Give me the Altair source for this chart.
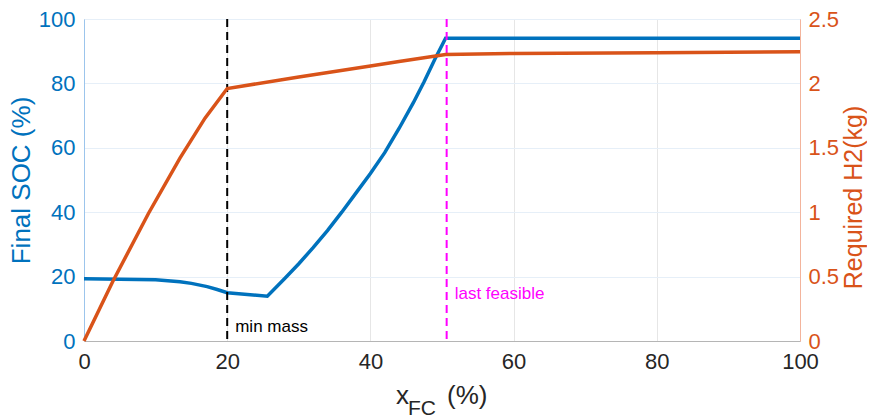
import altair as alt
import pandas as pd

# ---- data ----
soc_x = [0, 5, 10, 13.4, 15, 17.2, 18.6, 20, 25.6, 28, 30, 32, 34, 36, 38, 40, 42, 44, 46, 47.5, 49, 50.5, 100]
soc_y = [19.3, 19.2, 19.0, 18.4, 17.9, 16.9, 16.0, 15.0, 13.9, 19.3, 24.0, 29.0, 34.3, 40.0, 46.0, 52.0, 58.5, 66.0, 74.0, 80.5, 87.5, 94.0, 94.0]

h2_x = [0, 4, 9, 13.4, 16.9, 20, 30, 40, 44, 50.5, 60, 80, 100]
h2_y = [0, 0.46, 0.99, 1.42, 1.73, 1.96, 2.05, 2.135, 2.17, 2.225, 2.232, 2.238, 2.245]

vline_x = [20, 50.65]
vline_color = ["#000000", "#FF00FF"]

ann_x = [20, 50.65]
ann_y = [4.3, 14.6]
ann_text = ["min mass", "last feasible"]
ann_color = ["#000000", "#FF00FF"]

x_ticks = [0, 20, 40, 60, 80, 100]
soc_ticks = [0, 20, 40, 60, 80, 100]
h2_ticks = [0, 0.5, 1, 1.5, 2, 2.5]

BLUE = "#0072BD"
ORANGE = "#D95319"

soc_df = pd.DataFrame({"x": soc_x, "soc": soc_y})
h2_df = pd.DataFrame({"x": h2_x, "h2": h2_y})
vl_df = pd.DataFrame({"x": vline_x, "c": vline_color})
ann_df = pd.DataFrame({"x": ann_x, "soc": ann_y, "t": ann_text, "c": ann_color})
one = pd.DataFrame({"a": [0]})

x_scale = alt.Scale(domain=[0, 100], nice=False, zero=False)
x_axis = alt.Axis(values=x_ticks, title=None, labelFontSize=22, labelColor="#262626",
                  grid=True, gridColor="#e6e6e6", domainColor="#b5b5b5", ticks=False,
                  labelPadding=10, labelFlush=False)
soc_scale = alt.Scale(domain=[0, 100], nice=False)
soc_axis = alt.Axis(values=soc_ticks, title="Final SOC (%)", titleFontSize=26,
                    titleFontWeight="normal", titleColor=BLUE, labelColor=BLUE,
                    labelFontSize=22, domainColor="#9cc5ec", grid=True,
                    gridColor="#e6eff8", ticks=False, labelPadding=9, titlePadding=4)
h2_scale = alt.Scale(domain=[0, 2.5], nice=False)
h2_axis = alt.Axis(values=h2_ticks, title="Required H2(kg)", titleFontSize=25,
                   titleFontWeight="normal", titleColor=ORANGE, labelColor=ORANGE,
                   labelFontSize=22, domainColor="#f3b49c", grid=False, ticks=False,
                   orient="right", format="~g", labelPadding=8, titlePadding=3,
                   titleAngle=270, titleBaseline="top", titleY=178)

soc_line = alt.Chart(soc_df).mark_line(color=BLUE, strokeWidth=3.5).encode(
    x=alt.X("x:Q", scale=x_scale, axis=x_axis),
    y=alt.Y("soc:Q", scale=soc_scale, axis=soc_axis),
)

vlines = alt.Chart(vl_df).mark_rule(strokeDash=[8, 5], strokeWidth=2).encode(
    x=alt.X("x:Q", scale=x_scale, axis=x_axis),
    color=alt.Color("c:N", scale=None),
)

ann = alt.Chart(ann_df).mark_text(align="left", baseline="middle", dx=8, fontSize=17).encode(
    x=alt.X("x:Q", scale=x_scale, axis=x_axis),
    y=alt.Y("soc:Q", scale=soc_scale, axis=soc_axis),
    text="t:N",
    color=alt.Color("c:N", scale=None),
)

t_x = alt.Chart(one).mark_text(text="x", fontSize=26, align="left", baseline="alphabetic",
                               color="#262626").encode(x=alt.value(312), y=alt.value(385))
t_fc = alt.Chart(one).mark_text(text="FC", fontSize=21, align="left", baseline="alphabetic",
                                color="#262626").encode(x=alt.value(324), y=alt.value(396))
t_pc = alt.Chart(one).mark_text(text="(%)", fontSize=26, align="left", baseline="alphabetic",
                                color="#262626").encode(x=alt.value(363), y=alt.value(385))

left = alt.layer(soc_line, vlines, ann, t_x, t_fc, t_pc)

h2_line = alt.Chart(h2_df).mark_line(color=ORANGE, strokeWidth=3.5).encode(
    x=alt.X("x:Q", scale=x_scale, axis=x_axis),
    y=alt.Y("h2:Q", scale=h2_scale, axis=h2_axis),
)

chart = alt.layer(left, h2_line).resolve_scale(y="independent").properties(
    width=716, height=322,
    padding={"left": 76, "top": 11, "right": 67, "bottom": 95},
    autosize=alt.AutoSizeParams(type="none"),
).configure(font="Liberation Sans").configure_view(stroke="#c4c4c4", strokeWidth=1)

chart.save("out.html", embed_options={"renderer": "svg", "actions": False})
